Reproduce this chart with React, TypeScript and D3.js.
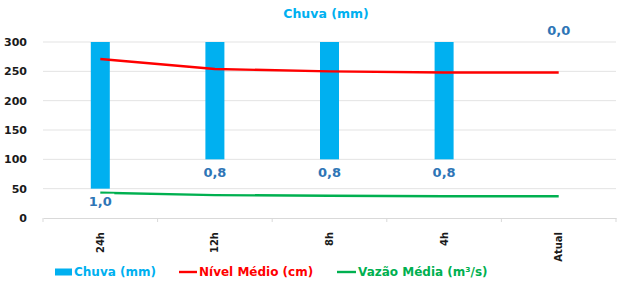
import React, { useEffect, useRef } from 'react';
import * as d3 from 'd3';

const categories = ['24h', '12h', '8h', '4h', 'Atual'];
const chuva = [1.0, 0.8, 0.8, 0.8, 0.0];
const nivel = [271, 254, 250, 248, 248];
const vazao = [43, 39, 38, 37, 37];
const yTicks = [0, 50, 100, 150, 200, 250, 300];

const FONT = '"DejaVu Sans", Verdana, sans-serif';

const App = () => {
  const svgRef = useRef<SVGSVGElement>(null);

  useEffect(() => {
    const width = 621;
    const height = 282;
    const margin = { top: 42, right: 5, bottom: 64, left: 43 };

    const svg = d3.select(svgRef.current);
    svg.selectAll('*').remove();
    svg.attr('width', width).attr('height', height);

    const x = d3.scaleBand<string>()
      .domain(categories)
      .range([margin.left, width - margin.right]);

    const y = d3.scaleLinear()
      .domain([0, 300])
      .range([height - margin.bottom, margin.top]);

    // rain axis is reversed: 0 at the top
    const rain = d3.scaleLinear()
      .domain([0, 1.2])
      .range([margin.top, height - margin.bottom]);

    // gridlines
    svg.append('g')
      .selectAll('line')
      .data(yTicks.filter(t => t > 0))
      .join('line')
      .attr('x1', margin.left)
      .attr('x2', width - margin.right)
      .attr('y1', d => y(d))
      .attr('y2', d => y(d))
      .attr('stroke', '#e3e3e3')
      .attr('stroke-width', 1);

    // y tick labels
    svg.append('g')
      .selectAll('text')
      .data(yTicks)
      .join('text')
      .attr('x', 27)
      .attr('y', d => y(d))
      .attr('dy', '0.35em')
      .attr('text-anchor', 'end')
      .attr('font-family', FONT)
      .attr('font-weight', 'bold')
      .attr('font-size', 11)
      .attr('fill', '#1a1a1a')
      .text(d => d);

    // x axis
    const xAxis = d3.axisBottom(x).tickSize(0).tickFormat(() => '');
    const gx = svg.append('g')
      .attr('transform', `translate(0,${height - margin.bottom})`)
      .call(xAxis);
    gx.select('.domain').attr('stroke', '#d9d9d9');
    const bounds = categories.map(c => x(c)!).concat([width - margin.right]);
    svg.append('g')
      .selectAll('line')
      .data(bounds)
      .join('line')
      .attr('x1', d => d)
      .attr('x2', d => d)
      .attr('y1', height - margin.bottom)
      .attr('y2', height - margin.bottom + 4)
      .attr('stroke', '#d9d9d9');

    svg.append('g')
      .selectAll('text')
      .data(categories)
      .join('text')
      .attr('transform', d => `translate(${x(d)! + x.bandwidth() / 2},232) rotate(-90)`)
      .attr('text-anchor', 'end')
      .attr('dy', '0.35em')
      .attr('font-family', FONT)
      .attr('font-weight', 'bold')
      .attr('font-size', 10)
      .attr('fill', '#1a1a1a')
      .text(d => d);

    // bars
    const barW = 19;
    svg.append('g')
      .selectAll('rect')
      .data(chuva)
      .join('rect')
      .attr('x', (d, i) => x(categories[i])! + x.bandwidth() / 2 - barW / 2)
      .attr('y', rain(0))
      .attr('width', barW)
      .attr('height', d => rain(d) - rain(0))
      .attr('fill', '#00b0f0');

    // lines
    const cx = (i: number) => x(categories[i])! + x.bandwidth() / 2;
    const line = d3.line<number>().x((d, i) => cx(i)).y(d => y(d));
    svg.append('path')
      .datum(vazao)
      .attr('d', line)
      .attr('fill', 'none')
      .attr('stroke', '#00b050')
      .attr('stroke-width', 2.4);
    svg.append('path')
      .datum(nivel)
      .attr('d', line)
      .attr('fill', 'none')
      .attr('stroke', '#ff0000')
      .attr('stroke-width', 2.4);

    // rain labels
    const fmt = (v: number) => v.toFixed(1).replace('.', ',');
    const lbl = svg.append('g')
      .selectAll('g')
      .data(chuva)
      .join('g')
      .attr('transform', (d, i) => `translate(${cx(i)},${d > 0 ? rain(d) + 13 : rain(0) - 12})`);
    lbl.append('rect')
      .attr('x', -14)
      .attr('y', -8)
      .attr('width', 28)
      .attr('height', 16)
      .attr('fill', 'white')
      .attr('opacity', (d, i) => (i === 0 ? 1 : 0));
    lbl.append('text')
      .attr('text-anchor', 'middle')
      .attr('dy', '0.35em')
      .attr('font-family', FONT)
      .attr('font-weight', 'bold')
      .attr('font-size', 13)
      .attr('fill', '#2e75b6')
      .text(d => fmt(d));

    // title
    svg.append('text')
      .attr('x', 326)
      .attr('y', 14)
      .attr('dy', '0.35em')
      .attr('text-anchor', 'middle')
      .attr('font-family', FONT)
      .attr('font-weight', 'bold')
      .attr('font-size', 12.5)
      .attr('fill', '#00b0f0')
      .text('Chuva (mm)');

    // legend
    const ly = 272;
    const legend = svg.append('g').attr('font-family', FONT).attr('font-weight', 'bold').attr('font-size', 12);
    legend.append('rect').attr('x', 55).attr('y', ly - 3.5).attr('width', 17).attr('height', 7).attr('fill', '#00b0f0');
    legend.append('text').attr('x', 74).attr('y', ly).attr('dy', '0.35em').attr('fill', '#00b0f0').text('Chuva (mm)');
    legend.append('line').attr('x1', 179).attr('x2', 197).attr('y1', ly).attr('y2', ly).attr('stroke', '#ff0000').attr('stroke-width', 2.4);
    legend.append('text').attr('x', 199).attr('y', ly).attr('dy', '0.35em').attr('fill', '#ff0000').text('Nível Médio (cm)');
    legend.append('line').attr('x1', 337).attr('x2', 356).attr('y1', ly).attr('y2', ly).attr('stroke', '#00b050').attr('stroke-width', 2.4);
    legend.append('text').attr('x', 358).attr('y', ly).attr('dy', '0.35em').attr('fill', '#00b050').text('Vazão Média (m³/s)');
  });

  return (
    <svg ref={svgRef} style={{ position: 'absolute', left: 0, top: 0, background: 'white' }}></svg>
  );
};

export default App;
